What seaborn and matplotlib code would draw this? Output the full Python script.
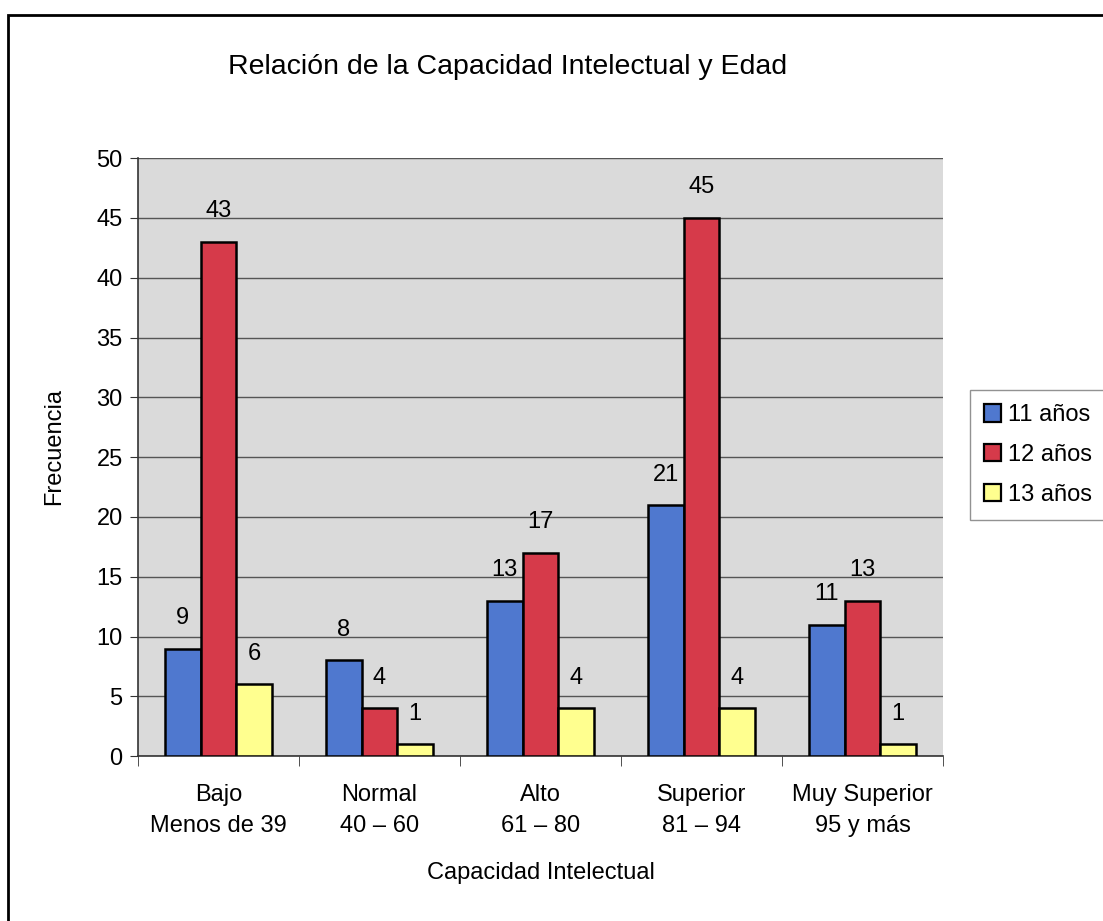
import numpy as np
import pandas as pd
import seaborn as sns
import matplotlib.pyplot as plt
from matplotlib.patches import Rectangle

categorias = ["Bajo\nMenos de 39", "Normal\n40 – 60", "Alto\n61 – 80",
              "Superior\n81 – 94", "Muy Superior\n95 y más"]
edades = ["11 años", "12 años", "13 años"]
v11 = [9, 8, 13, 21, 11]
v12 = [43, 4, 17, 45, 13]
v13 = [6, 1, 4, 4, 1]
colores = ["#4f78cf", "#d63a4a", "#ffff8f"]

df = pd.DataFrame({
    "cat": categorias * 3,
    "edad": [edades[0]] * 5 + [edades[1]] * 5 + [edades[2]] * 5,
    "valor": v11 + v12 + v13,
})

sns.set_style("white")
plt.rcParams["font.family"] = ["Liberation Sans", "DejaVu Sans"]
plt.rcParams["text.color"] = "black"
plt.rcParams["axes.labelcolor"] = "black"
plt.rcParams["xtick.color"] = "black"
plt.rcParams["ytick.color"] = "black"

fig = plt.figure(figsize=(11.03, 9.21), dpi=100)
ax = fig.add_axes([0.1251, 0.179, 0.7298, 0.6493])
ax.set_facecolor("#dadada")

sns.barplot(data=df, x="cat", y="valor", hue="edad", palette=colores,
            saturation=1, width=0.667, edgecolor="black", linewidth=1.8,
            ax=ax, zorder=3)

for c in ax.containers:
    ax.bar_label(c, padding=14, fontsize=17)

ax.set_ylim(0, 50)
ax.set_xlim(-0.5, 4.5)
ax.set_yticks(np.arange(0, 51, 5))
ax.yaxis.grid(True, color="#555555", linewidth=1.0, zorder=0)
ax.set_axisbelow(True)
ax.tick_params(axis="y", labelsize=17, length=6, direction="out", left=True,
               color="#333333", pad=5)
ax.tick_params(axis="x", which="major", labelsize=17, length=0, pad=20)
ax.set_xticks(np.arange(-0.5, 5, 1), minor=True)
ax.tick_params(axis="x", which="minor", length=7, direction="out",
               color="#333333", bottom=True)
for s in ["top", "right"]:
    ax.spines[s].set_visible(False)
for s in ["left", "bottom"]:
    ax.spines[s].set_color("#333333")
    ax.spines[s].set_linewidth(1.2)

ax.set_xlabel("Capacidad Intelectual", fontsize=17, labelpad=18)
ax.set_ylabel("Frecuencia", fontsize=17)
ax.yaxis.set_label_coords(-0.09, 0.518)

for lab in ax.get_xticklabels():
    lab.set_linespacing(1.55)

fig.suptitle("Relación de la Capacidad Intelectual y Edad", fontsize=20.5,
             x=0.46, y=0.941)

leg = ax.legend(loc="center left", bbox_to_anchor=(0.879, 0.506),
                bbox_transform=fig.transFigure, fontsize=17, frameon=True,
                fancybox=False, edgecolor="#777777", handlelength=0.75,
                handleheight=0.75, handletextpad=0.3, borderpad=0.6,
                labelspacing=0.75, borderaxespad=0)
leg.get_frame().set_linewidth(1.0)
for h in leg.legend_handles:
    h.set_edgecolor("black")
    h.set_linewidth(1.6)

fig.patches.append(Rectangle((8 / 1103, -0.1), 1.2, 1.1 - 15 / 921,
                             transform=fig.transFigure, fill=False,
                             edgecolor="black", linewidth=2))

fig.savefig("out.png", dpi=100)
